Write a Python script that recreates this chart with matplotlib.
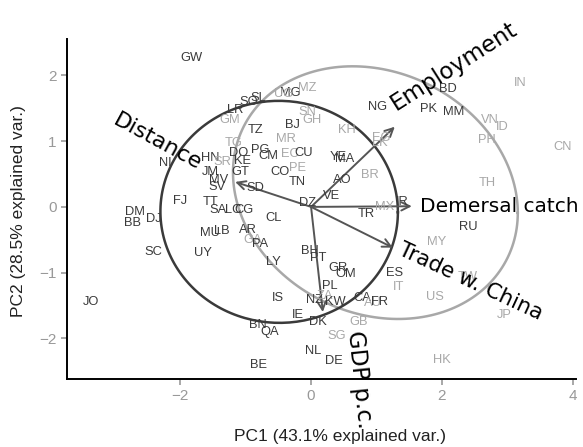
import numpy as np
import matplotlib
matplotlib.use("Agg")
import matplotlib.pyplot as plt

# country scores on PC1 / PC2 and group (0 = dark, 1 = light)
codes = ["GW", "LR", "SO", "SL", "GM", "MG", "UG", "MZ", "SN", "BJ", "GH", "TZ", "KH", "NG",
         "EG", "LK", "TG", "MR", "DO", "PG", "CM", "EC", "CU", "YE", "MA", "HN", "NI", "SR",
         "KE", "JM", "GT", "CO", "PE", "TN", "MV", "SV", "SD", "TT", "SA", "LC", "CG", "CL",
         "FJ", "DM", "BB", "DJ", "SC", "UY", "MU", "LB", "JO", "AR", "GA", "PA", "LY", "BH",
         "PT", "GR", "OM", "PL", "IS", "NZ", "ZA", "KW", "CA", "AU", "FR", "ES", "IT", "IE",
         "DK", "GB", "SG", "BN", "QA", "NL", "DE", "BE", "HK", "US", "TW", "MY", "RU", "TH",
         "MX", "IR", "TR", "VE", "DZ", "AO", "BR", "JP", "IN", "BD", "PK", "MM", "VN", "ID",
         "PH", "CN"]
pc1 = [-1.83, -1.16, -0.96, -0.81, -1.24, -0.32, -0.42, -0.06, -0.05, -0.29, 0.02, -0.85, 0.55, 1.02,
       1.08, 1.05, -1.19, -0.38, -1.11, -0.78, -0.66, -0.32, -0.12, 0.41, 0.52, -1.54, -2.23, -1.36,
       -1.05, -1.54, -1.08, -0.47, -0.21, -0.21, -1.42, -1.44, -0.85, -1.54, -1.42, -1.19, -1.03, -0.58,
       -2.00, -2.69, -2.73, -2.41, -2.41, -1.66, -1.54, -1.36, -3.37, -0.96, -0.89, -0.78, -0.58, -0.02,
       0.11, 0.41, 0.53, 0.29, -0.50, 0.06, 0.21, 0.37, 0.78, 0.95, 1.05, 1.28, 1.33, -0.20,
       0.11, 0.72, 0.40, -0.81, -0.63, 0.03, 0.35, -0.81, 2.00, 1.89, 2.40, 1.92, 2.41, 2.70,
       1.13, 1.40, 0.85, 0.32, -0.06, 0.47, 0.90, 2.96, 3.19, 2.09, 1.79, 2.18, 2.73, 2.92,
       2.69, 3.85]
pc2 = [2.27, 1.48, 1.60, 1.66, 1.32, 1.74, 1.72, 1.81, 1.45, 1.25, 1.32, 1.17, 1.17, 1.52,
       1.05, 0.98, 0.97, 1.03, 0.82, 0.87, 0.78, 0.81, 0.82, 0.76, 0.73, 0.75, 0.67, 0.68,
       0.70, 0.53, 0.53, 0.53, 0.59, 0.38, 0.41, 0.30, 0.29, 0.08, -0.05, -0.05, -0.05, -0.17,
       0.09, -0.08, -0.24, -0.18, -0.68, -0.70, -0.40, -0.37, -1.45, -0.35, -0.50, -0.56, -0.84, -0.67,
       -0.78, -0.93, -1.02, -1.20, -1.39, -1.42, -1.35, -1.45, -1.39, -1.46, -1.45, -1.00, -1.22, -1.64,
       -1.75, -1.75, -1.96, -1.80, -1.90, -2.20, -2.35, -2.40, -2.33, -1.37, -1.07, -0.53, -0.30, 0.37,
       0.00, 0.08, -0.11, 0.17, 0.06, 0.41, 0.49, -1.64, 1.89, 1.80, 1.49, 1.45, 1.32, 1.22,
       1.02, 0.91]
group = [0, 0, 0, 0, 1, 0, 1, 1, 1, 0, 1, 0, 1, 0,
         1, 1, 1, 1, 0, 0, 0, 1, 0, 0, 0, 0, 0, 1,
         0, 0, 0, 0, 1, 0, 0, 0, 0, 0, 0, 0, 0, 0,
         0, 0, 0, 0, 0, 0, 0, 0, 0, 0, 1, 0, 0, 0,
         0, 0, 0, 0, 0, 0, 1, 0, 0, 1, 0, 0, 1, 0,
         0, 1, 1, 0, 0, 0, 0, 0, 1, 1, 1, 1, 0, 1,
         1, 0, 0, 0, 0, 0, 1, 1, 1, 0, 0, 0, 1, 1,
         1, 1]

# loadings (arrow tips)
var_names = ["Employment", "Demersal catch", "Trade w. China", "GDP p.c.", "Distance"]
var_x = [1.28, 1.54, 1.25, 0.18, -1.16]
var_y = [1.22, 0.01, -0.62, -1.60, 0.38]

# where each variable name sits and how it is turned
lab_x = [1.24, 1.66, 1.35, 0.66, -1.70]
lab_y = [1.55, 0.01, -0.64, -1.88, 0.63]
lab_angle = [32.5, 0, -25, -84, -28.5]
lab_size = [16.5, 14.5, 15.5, 16.5, 16]

grey_dark = "#3a3a3a"
grey_light = "#a8a8a8"
cols = [grey_dark, grey_light]

fig = plt.figure(figsize=(5.83, 4.47), dpi=100)
ax = fig.add_axes([0.115, 0.152, 0.873, 0.760])

x = np.array(pc1)
y = np.array(pc2)
g = np.array(group)

# 68% normal ellipse per group, like ggbiplot
r = np.sqrt(-2 * np.log(1 - 0.68))
t = np.linspace(0, 2 * np.pi, 200)
circ = np.vstack([np.cos(t), np.sin(t)])
for k in [1, 0]:
    pts = np.vstack([x[g == k], y[g == k]])
    mu = pts.mean(axis=1, keepdims=True)
    L = np.linalg.cholesky(np.cov(pts))
    ell = mu + r * L @ circ
    ax.plot(ell[0], ell[1], color=cols[k], lw=1.8, zorder=1)

for c, px, py, k in zip(codes, pc1, pc2, group):
    ax.text(px, py, c, color=cols[k], fontsize=9.3, family="Liberation Sans",
            ha="center", va="center", zorder=3)

for vx, vy in zip(var_x, var_y):
    ax.annotate("", xy=(vx, vy), xytext=(0, 0),
                arrowprops=dict(arrowstyle="->", color="#555555", lw=1.4,
                                mutation_scale=15, shrinkA=0, shrinkB=0), zorder=2)

for name, lx, ly, ang, sz, vx in zip(var_names, lab_x, lab_y, lab_angle, lab_size, var_x):
    ax.text(lx, ly, name, rotation=ang, rotation_mode="anchor",
            ha="left" if vx > 0 else "right", va="center", fontsize=sz,
            family="DejaVu Sans", color="black", clip_on=False, zorder=4)

ax.set_xlim(-3.73, 4.05)
ax.set_ylim(-2.62, 2.55)
ax.set_xticks([-2, 0, 2, 4])
ax.set_yticks([-2, -1, 0, 1, 2])
for s in ["top", "right"]:
    ax.spines[s].set_visible(False)
for s in ["left", "bottom"]:
    ax.spines[s].set_linewidth(1.4)
    ax.spines[s].set_color("black")
ax.tick_params(colors="#999999", labelsize=11, length=4, width=1.2)
for lab in ax.get_xticklabels() + ax.get_yticklabels():
    lab.set_family("Liberation Sans")
ax.set_xlabel("PC1 (43.1% explained var.)", fontsize=12.5, family="Liberation Sans", color="#222222")
ax.set_ylabel("PC2 (28.5% explained var.)", fontsize=12.5, family="Liberation Sans", color="#222222")
ax.xaxis.set_label_coords(0.536, -0.148)
ax.yaxis.set_label_coords(-0.080, 0.494)

fig.savefig("out.png", dpi=100)
